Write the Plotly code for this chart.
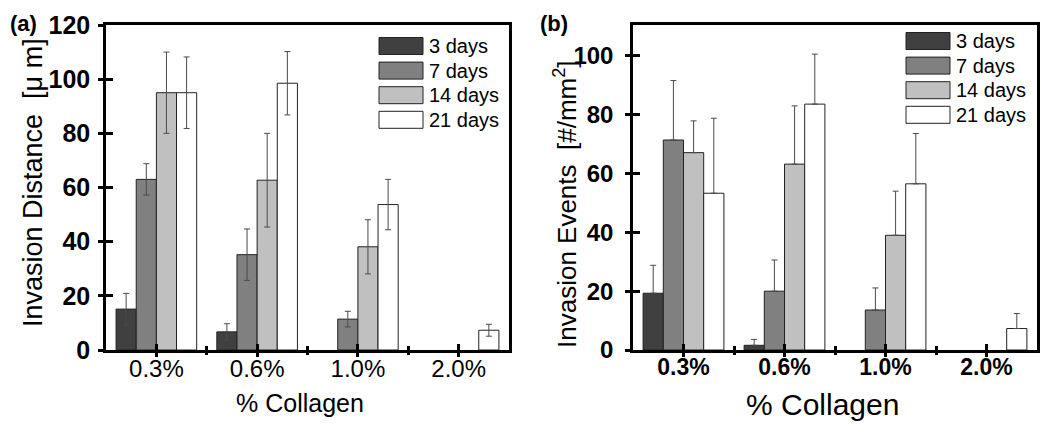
import plotly.graph_objects as go

categories = ["0.3%", "0.6%", "1.0%", "2.0%"]
series_names = ["3 days", "7 days", "14 days", "21 days"]

# Panel (a): Invasion distance [um], symmetric error (None = no bar)
dist_3d = [15.1, 6.7, None, None]
dist_7d = [63.0, 35.2, 11.4, None]
dist_14d = [95.0, 62.7, 38.1, None]
dist_21d = [95.0, 98.5, 53.7, 7.3]
dist_err_3d = [5.8, 3.0, 0, 0]
dist_err_7d = [5.8, 9.5, 2.9, 0]
dist_err_14d = [15.0, 17.3, 10.0, 0]
dist_err_21d = [13.2, 11.7, 9.3, 2.2]

# Panel (b): Invasion events [#/mm^2], upper error only
ev_3d = [19.3, 1.6, None, None]
ev_7d = [71.4, 20.0, 13.6, None]
ev_14d = [67.1, 63.2, 39.0, None]
ev_21d = [53.3, 83.6, 56.5, 7.3]
ev_err_3d = [9.5, 2.0, 0, 0]
ev_err_7d = [20.2, 10.6, 7.5, 0]
ev_err_14d = [10.8, 19.8, 15.0, 0]
ev_err_21d = [25.5, 17.0, 17.1, 5.1]

colors = ["#404040", "#808080", "#c0c0c0", "#ffffff"]
FONT = "Liberation Sans, Arial, sans-serif"

xpos = list(range(len(categories)))

dist_vals = [dist_3d, dist_7d, dist_14d, dist_21d]
dist_errs = [dist_err_3d, dist_err_7d, dist_err_14d, dist_err_21d]
ev_vals = [ev_3d, ev_7d, ev_14d, ev_21d]
ev_errs = [ev_err_3d, ev_err_7d, ev_err_14d, ev_err_21d]

fig = go.Figure()

for i, name in enumerate(series_names):
    fig.add_trace(go.Bar(
        x=xpos, y=dist_vals[i], name=name, xaxis="x", yaxis="y",
        marker=dict(color=colors[i], line=dict(color="#222222", width=1)),
        error_y=dict(type="data", array=dist_errs[i], visible=True,
                     color="#4a4a4a", thickness=1, width=3),
        showlegend=False, offsetgroup=str(i),
    ))
for i, name in enumerate(series_names):
    errs = ev_errs[i]
    fig.add_trace(go.Bar(
        x=xpos, y=ev_vals[i], name=name, xaxis="x2", yaxis="y2",
        marker=dict(color=colors[i], line=dict(color="#222222", width=1)),
        error_y=dict(type="data", array=errs, arrayminus=[0] * len(errs),
                     symmetric=False, visible=True,
                     color="#4a4a4a", thickness=1, width=3),
        showlegend=False, offsetgroup=str(i),
    ))

# empty traces for overlay axes (outer half of the crossing ticks)
fig.add_trace(go.Scatter(x=[], y=[], xaxis="x3", yaxis="y3", showlegend=False, hoverinfo="skip"))
fig.add_trace(go.Scatter(x=[], y=[], xaxis="x4", yaxis="y4", showlegend=False, hoverinfo="skip"))

# page has an 8px body margin -> figure is 8px smaller and shifted
OFF = 8
W, H = 1050 - OFF, 425 - OFF

def px_x(p):
    return (p - OFF) / W

def px_y(p):
    return 1 - (p - OFF) / H

top_px, bot_px = 25, 350
ydom = [px_y(bot_px), px_y(top_px)]
xdom_a = [px_x(106), px_x(509)]
xdom_b = [px_x(633), px_x(1037)]

xr = [-0.5, 3.5]
yr_a = [0, 120]
yr_b = [0, 110.5]

def xax(domain, anchor, bold, ticks, labels=True, line=True, overlay=None):
    d = dict(domain=domain, anchor=anchor, range=xr, tickvals=xpos, ticktext=categories,
             ticks=ticks, ticklen=6, tickwidth=2.5, tickcolor="black",
             showticklabels=labels, showline=line, linecolor="black", linewidth=2.5,
             mirror=True if line else False, showgrid=False, zeroline=False,
             fixedrange=True, automargin=False, ticklabelstandoff=-5,
             tickfont=dict(family=FONT, size=23 if bold else 24, color="black",
                           weight="bold" if bold else "normal"),
             minor=dict(tickvals=[0.5, 1.5, 2.5], ticks=ticks, ticklen=4,
                        tickwidth=2.5, tickcolor="black"))
    if overlay:
        d["overlaying"] = overlay
    return d

def yax(domain, anchor, rng, tickvals, size, ticks, standoff, labels=True, line=True, overlay=None):
    d = dict(domain=domain, anchor=anchor, range=rng, tickvals=tickvals,
             ticks=ticks, ticklen=7, tickwidth=2.5, tickcolor="black",
             showticklabels=labels, showline=line, linecolor="black", linewidth=2.5,
             mirror=True if line else False, showgrid=False, zeroline=False,
             fixedrange=True, automargin=False, ticklabelstandoff=standoff,
             tickfont=dict(family=FONT, size=size, color="black", weight="bold"))
    if overlay:
        d["overlaying"] = overlay
    return d

ytick_a = [0, 20, 40, 60, 80, 100, 120]
ytick_b = [0, 20, 40, 60, 80, 100]

fig.update_layout(
    width=W, height=H,
    margin=dict(l=0, r=0, t=0, b=0, autoexpand=False),
    paper_bgcolor="white", plot_bgcolor="white",
    barmode="group", bargap=0.2, bargroupgap=0,
    showlegend=False,
    font=dict(family=FONT, color="black"),
    xaxis=xax(xdom_a, "y", False, "inside"),
    yaxis=yax(ydom, "x", yr_a, ytick_a, 25, "inside", 8),
    xaxis2=xax(xdom_b, "y2", True, "inside"),
    yaxis2=yax(ydom, "x2", yr_b, ytick_b, 24, "inside", 12),
    xaxis3=xax(xdom_a, "y", False, "outside", labels=False, line=False, overlay="x"),
    yaxis3=yax(ydom, "x", yr_a, ytick_a, 25, "outside", 0, labels=False, line=False, overlay="y"),
    xaxis4=xax(xdom_b, "y2", True, "outside", labels=False, line=False, overlay="x2"),
    yaxis4=yax(ydom, "x2", yr_b, ytick_b, 24, "outside", 0, labels=False, line=False, overlay="y2"),
)

ann = []
# panel labels
ann.append(dict(text="<b>(a)</b>", x=px_x(8), y=px_y(23), xref="paper", yref="paper",
                xanchor="left", yanchor="middle", showarrow=False,
                font=dict(family=FONT, size=22, color="black")))
ann.append(dict(text="<b>(b)</b>", x=px_x(538), y=px_y(23), xref="paper", yref="paper",
                xanchor="left", yanchor="middle", showarrow=False,
                font=dict(family=FONT, size=22, color="black")))
# axis titles
ann.append(dict(text="Invasion Distance  [\u03bc m]", x=px_x(33), y=px_y(183),
                xref="paper", yref="paper", textangle=-90, showarrow=False,
                xanchor="center", yanchor="middle",
                font=dict(family=FONT, size=27, color="black")))
ann.append(dict(text="Invasion Events  [#/mm<sup>2</sup>]", x=px_x(566), y=px_y(204),
                xref="paper", yref="paper", textangle=-90, showarrow=False,
                xanchor="center", yanchor="middle",
                font=dict(family=FONT, size=26, color="black")))
ann.append(dict(text="% Collagen", x=px_x(300), y=px_y(403),
                xref="paper", yref="paper", showarrow=False,
                xanchor="center", yanchor="middle",
                font=dict(family=FONT, size=25, color="black")))
ann.append(dict(text="% Collagen", x=px_x(822), y=px_y(404),
                xref="paper", yref="paper", showarrow=False,
                xanchor="center", yanchor="middle",
                font=dict(family=FONT, size=30, color="black")))

# custom legends (large swatches)
shapes = []
legend_specs = [(379, 46), (906, 41)]
for (lx, ly0) in legend_specs:
    for i, name in enumerate(series_names):
        cy = ly0 + i * 24.6
        shapes.append(dict(type="rect", xref="paper", yref="paper",
                           x0=px_x(lx), x1=px_x(lx + 44),
                           y0=px_y(cy - 8.5), y1=px_y(cy + 8.5),
                           fillcolor=colors[i], line=dict(color="#222222", width=1)))
        ann.append(dict(text=name, x=px_x(lx + 48), y=px_y(cy),
                        xref="paper", yref="paper", showarrow=False,
                        xanchor="left", yanchor="middle",
                        font=dict(family=FONT, size=20, color="black")))

fig.update_layout(annotations=ann, shapes=shapes)

fig.write_html("out.html")
